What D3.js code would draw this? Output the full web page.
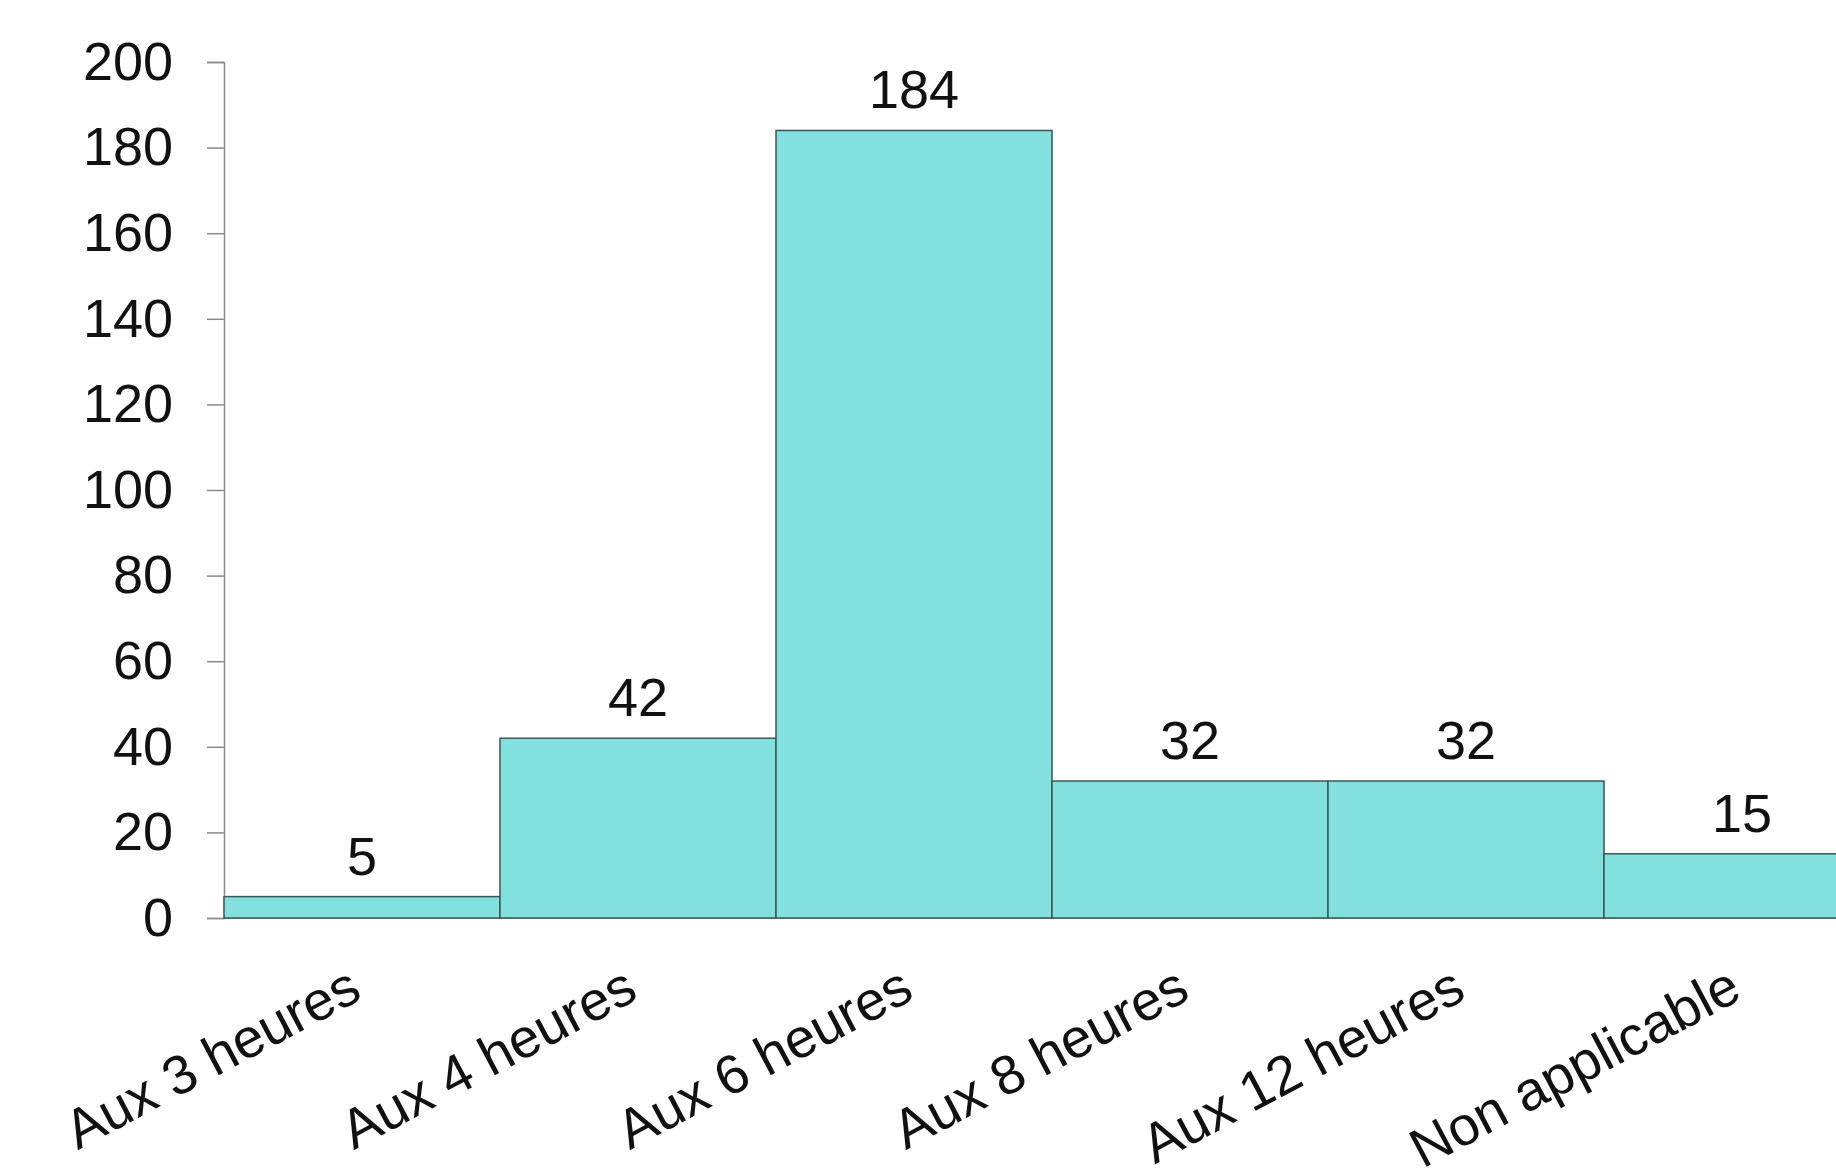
<!DOCTYPE html>
<html>
<head>
<meta charset="utf-8">
<script src="https://cdn.jsdelivr.net/npm/d3@7"></script>
<style>
  html, body { margin: 0; padding: 0; background: #ffffff; overflow: hidden; }
  svg { display: block; }
  text { font-family: "Liberation Sans", Arial, sans-serif; fill: #111; }
</style>
</head>
<body>
<svg id="chart" width="1836" height="1172"></svg>
<script>
// Fréquence de surveillance : nombre de réponses par intervalle
const categories = ["Aux 3 heures", "Aux 4 heures", "Aux 6 heures", "Aux 8 heures", "Aux 12 heures", "Non applicable"];
const counts = [5, 42, 184, 32, 32, 15];
const yTicks = [0, 20, 40, 60, 80, 100, 120, 140, 160, 180, 200];

const svg = d3.select("#chart");

// Plot area: the band scale runs past the right edge of the page, so the last bar is cut off
const left = 224, bandStep = 276;
const x = d3.scaleBand()
  .domain(categories)
  .range([left, left + bandStep * categories.length])
  .paddingInner(0)
  .paddingOuter(0);

const y = d3.scaleLinear()
  .domain([0, 200])
  .range([918, 62]);

// Y axis
const yAxis = d3.axisLeft(y)
  .tickValues(yTicks)
  .tickSize(17)
  .tickPadding(34)
  .tickFormat(d3.format("d"));

const gy = svg.append("g")
  .attr("transform", `translate(${left},0)`)
  .call(yAxis);
gy.select(".domain").attr("stroke", "#8a8a8a").attr("stroke-width", 1.5);
gy.selectAll(".tick line").attr("stroke", "#8a8a8a").attr("stroke-width", 1.5);
gy.selectAll(".tick text")
  .attr("font-size", 54)
  .attr("font-family", "Liberation Sans, Arial, sans-serif")
  .attr("fill", "#111");

// Baseline
svg.append("line")
  .attr("x1", left).attr("x2", 1836)
  .attr("y1", y(0)).attr("y2", y(0))
  .attr("stroke", "#8a8a8a").attr("stroke-width", 1.5);

// Bars
svg.append("g")
  .selectAll("rect")
  .data(categories)
  .join("rect")
  .attr("x", d => x(d))
  .attr("y", (d, i) => y(counts[i]))
  .attr("width", x.bandwidth())
  .attr("height", (d, i) => y(0) - y(counts[i]))
  .attr("fill", "#82e0de")
  .attr("stroke", "#3b5657")
  .attr("stroke-width", 1.5);

// Value labels above each bar
svg.append("g")
  .selectAll("text")
  .data(categories)
  .join("text")
  .attr("x", d => x(d) + x.bandwidth() / 2)
  .attr("y", (d, i) => y(counts[i]) - 22)
  .attr("text-anchor", "middle")
  .attr("font-size", 54)
  .text((d, i) => counts[i]);

// Category labels, slanted
svg.append("g")
  .selectAll("text")
  .data(categories)
  .join("text")
  .attr("text-anchor", "end")
  .attr("font-size", 55)
  .attr("transform", d => `translate(${x(d) + x.bandwidth() / 2 + 2},${y(0) + 80}) rotate(-28)`)
  .text(d => d);
</script>
</body>
</html>
